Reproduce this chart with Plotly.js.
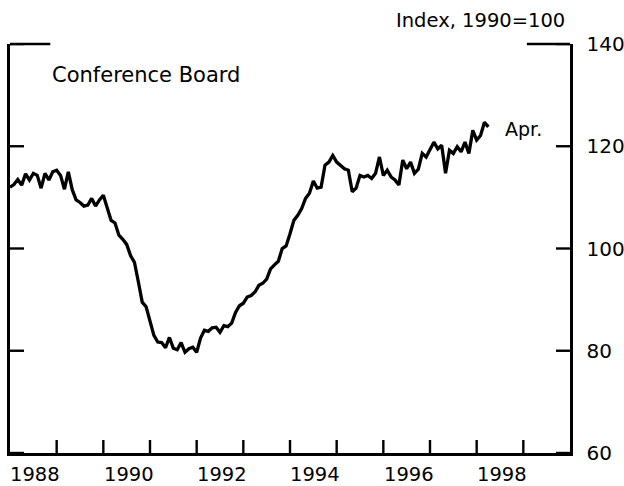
<!DOCTYPE html>
<html>
<head>
<meta charset="utf-8">
<script src="https://cdn.plot.ly/plotly-3.0.1.min.js"></script>
<style>html,body{margin:0;padding:0;background:#fff;}#chart{width:624px;height:486px;}</style>
</head>
<body>
<div id="chart"></div>
<script>
// Monthly index values, Jan 1988 .. Apr 1998 (Index, 1990=100)
var startYear = 1988;
var values1988 = [112.0, 112.5, 113.5, 112.4, 114.6, 113.4, 114.7, 114.3, 111.8, 114.7, 113.4, 115.0];
var values1989 = [115.3, 114.3, 111.6, 115.0, 111.5, 109.5, 109.0, 108.3, 108.5, 109.8, 108.3, 109.5];
var values1990 = [110.4, 107.8, 105.5, 105.0, 102.6, 101.8, 100.8, 98.6, 97.3, 93.5, 89.5, 88.6];
var values1991 = [86.0, 83.0, 81.7, 81.6, 80.6, 82.6, 80.5, 80.2, 81.6, 79.7, 80.4, 80.7];
var values1992 = [79.7, 82.5, 84.0, 83.8, 84.5, 84.6, 83.6, 84.9, 84.7, 85.4, 87.5, 88.8];
var values1993 = [89.3, 90.5, 90.8, 91.5, 92.8, 93.2, 94.0, 96.0, 96.8, 97.5, 100.0, 100.5];
var values1994 = [102.9, 105.5, 106.5, 107.8, 109.8, 110.8, 113.2, 111.8, 112.0, 116.3, 116.9, 118.2];
var values1995 = [116.9, 116.3, 115.6, 115.3, 111.1, 111.8, 114.3, 114.0, 114.3, 113.7, 114.7, 117.9];
var values1996 = [114.3, 115.3, 114.0, 113.4, 112.4, 117.3, 115.6, 116.9, 114.7, 115.5, 118.6, 117.9];
var values1997 = [119.2, 120.8, 119.5, 120.2, 114.7, 119.2, 118.6, 119.9, 118.9, 120.8, 118.6, 123.1];
var values1998 = [121.2, 122.1, 124.7, 123.8];

var yearTicks = [1989, 1990, 1991, 1992, 1993, 1994, 1995, 1996, 1997, 1998, 1999];
var yearLabels = ['1988', '1990', '1992', '1994', '1996', '1998'];
var yTicks = [60, 80, 100, 120, 140];
var yLabels = ['60', '80', '100', '120', '140'];

var values = [].concat(values1988, values1989, values1990, values1991, values1992,
  values1993, values1994, values1995, values1996, values1997, values1998);
var x = values.map(function (v, i) { return startYear + i / 12; });

var FONT = 'DejaVu Sans, Arial, sans-serif';
var PLOT_W = 560, PLOT_H = 409;

var trace = {
  x: x, y: values, type: 'scatter', mode: 'lines',
  line: {color: '#000', width: 3.3, shape: 'linear'},
  hoverinfo: 'skip', showlegend: false
};

var annotations = yearLabels.map(function (s) {
  return {text: s, xref: 'x', yref: 'paper', x: parseInt(s, 10) + 0.5, y: 0,
    xanchor: 'center', yanchor: 'middle', yshift: -21, showarrow: false, borderpad: 0,
    xshift: 2, font: {family: FONT, size: 19.5, color: '#000'}};
});
annotations.push(
  {text: 'Index, 1990=100', xref: 'paper', yref: 'paper', x: 1, y: 1,
   xanchor: 'right', yanchor: 'middle', xshift: -3, yshift: 24, showarrow: false,
   font: {family: FONT, size: 19.5, color: '#000'}},
  {text: 'Conference Board', xref: 'paper', yref: 'paper', x: 0, y: 1,
   xanchor: 'left', yanchor: 'middle', xshift: 40, yshift: -31, showarrow: false,
   font: {family: FONT, size: 21, color: '#000'}},
  {text: 'Apr.', xref: 'paper', yref: 'paper', x: 0.8836, y: 1,
   xanchor: 'left', yanchor: 'middle', yshift: -85, xshift: -2, showarrow: false,
   font: {family: FONT, size: 19, color: '#000'}}
);

// tick marks (inside), positioned through the axes' own scales
var tickLine = {color: '#000', width: 2.4};
var shapes = [];
yearTicks.forEach(function (t) {
  shapes.push({type: 'line', xref: 'x', yref: 'paper', x0: t, x1: t,
    y0: 0, y1: 13 / PLOT_H, line: tickLine});
});
yTicks.forEach(function (v) {
  shapes.push({type: 'line', xref: 'paper', yref: 'y', x0: 0, x1: 14 / PLOT_W,
    y0: v, y1: v, line: tickLine});
  shapes.push({type: 'line', xref: 'paper', yref: 'y', x0: 1 - 14 / PLOT_W, x1: 1,
    y0: v, y1: v, line: tickLine});
});
// short top-corner segments of the frame
shapes.push(
  {type: 'line', xref: 'paper', yref: 'paper', x0: 0, x1: 0.072, y0: 1, y1: 1,
   line: {color: '#000', width: 2.6}},
  {type: 'line', xref: 'paper', yref: 'paper', x0: 0.923, x1: 1, y0: 1, y1: 1,
   line: {color: '#000', width: 2.6}}
);

var layout = {
  width: 624, height: 486,
  margin: {l: 10, r: 54, t: 44, b: 33},
  paper_bgcolor: '#fff', plot_bgcolor: '#fff',
  font: {family: FONT, size: 20, color: '#000'},
  showlegend: false,
  xaxis: {
    range: [1988, 2000], showgrid: false, zeroline: false,
    showline: true, linecolor: '#000', linewidth: 2.6, mirror: false,
    tickmode: 'array', tickvals: yearTicks, showticklabels: false, ticks: ''
  },
  yaxis: {
    range: [60, 140], side: 'right', showgrid: false, zeroline: false,
    showline: true, linecolor: '#000', linewidth: 2.6, mirror: true,
    tickmode: 'array', tickvals: yTicks, ticktext: yLabels, ticks: '',
    ticklabelstandoff: 10,
    tickfont: {family: FONT, size: 20, color: '#000'}
  },
  shapes: shapes,
  annotations: annotations
};

Plotly.newPlot('chart', [trace], layout, {staticPlot: true, displayModeBar: false});
</script>
</body>
</html>
